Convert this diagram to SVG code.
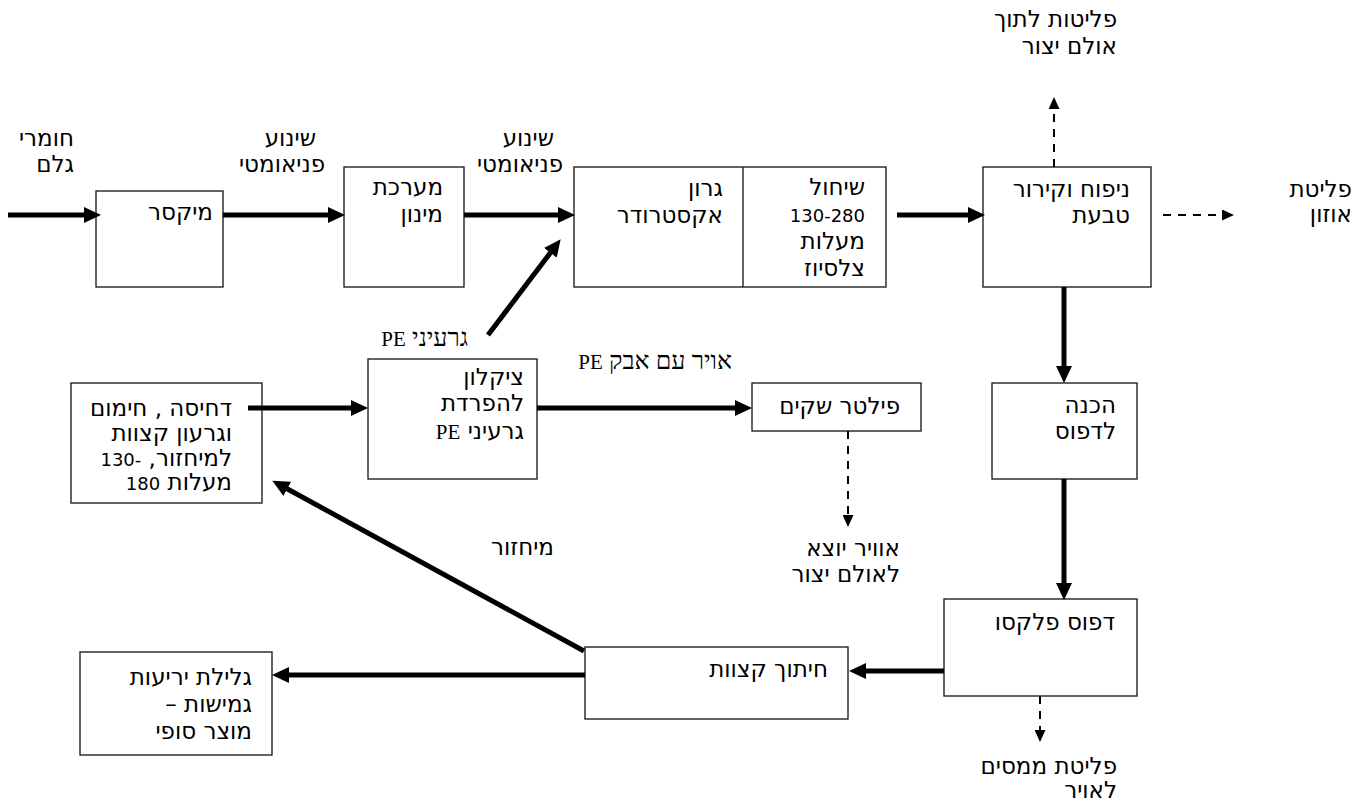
<svg xmlns="http://www.w3.org/2000/svg" width="1371" height="805" viewBox="0 0 1371 805">
<defs>
<style>
text{font-family:"DejaVu Sans","Noto Sans",sans-serif;font-size:23px;fill:#000}
.r{direction:rtl;text-anchor:start}
.d{font-size:18px}
.s{font-family:"Liberation Serif","Noto Serif",serif;font-size:25px}
.pe{font-family:"Liberation Serif","Noto Serif",serif;font-size:21px}
.box{fill:#fff;stroke:#222;stroke-width:1.4}
.thick{stroke:#000;stroke-width:5;fill:none;marker-end:url(#ah)}
.dash{stroke:#000;stroke-width:2;fill:none;stroke-dasharray:8 7;marker-end:url(#dh)}
</style>
<marker id="ah" markerUnits="userSpaceOnUse" markerWidth="17" markerHeight="16" refX="6" refY="8" orient="auto" viewBox="0 0 17 16"><path d="M0,0 L17,8 L0,16 z" fill="#000"/></marker>
<marker id="dh" markerUnits="userSpaceOnUse" markerWidth="12" markerHeight="11" refX="1" refY="5.5" orient="auto" viewBox="0 0 12 11"><path d="M0,0 L12,5.5 L0,11 z" fill="#000"/></marker>
</defs>
<rect width="1371" height="805" fill="#fff"/>

<g id="labels">
<text class="r" x="74" y="146">חומרי</text>
<text class="r" x="74" y="172">גלם</text>
<text class="r" x="316" y="146">שינוע</text>
<text class="r" x="325" y="172">פניאומטי</text>
<text class="r" x="554" y="146">שינוע</text>
<text class="r" x="563" y="172">פניאומטי</text>
<text class="r" x="1117" y="27">פליטות לתוך</text>
<text class="r" x="1117" y="54">אולם יצור</text>
<text class="r" x="1352" y="197">פליטת</text>
<text class="r" x="1352" y="222">אוזון</text>
<text class="r s" x="468" y="346">גרעיני <tspan class="pe">PE</tspan></text>
<text class="r s" x="732" y="369">אויר עם אבק <tspan class="pe">PE</tspan></text>
<text class="r" x="900" y="556">אוויר יוצא</text>
<text class="r" x="900" y="582">לאולם יצור</text>
<text class="r" x="554" y="555">מיחזור</text>
<text class="r" x="1117" y="774">פליטת ממסים</text>
<text class="r" x="1117" y="798">לאויר</text>
</g>

<g id="mixer">
<rect class="box" x="96" y="191" width="127" height="96"/>
<text class="r" x="213" y="220">מיקסר</text>
</g>
<g id="dosing">
<rect class="box" x="344" y="167" width="120" height="120"/>
<text class="r" x="443" y="195">מערכת</text>
<text class="r" x="443" y="222">מינון</text>
</g>
<g id="extruder">
<rect class="box" x="574" y="167" width="312" height="120"/>
<line x1="743" y1="167" x2="743" y2="287" stroke="#222" stroke-width="1.4"/>
<text class="r" x="723" y="196">גרון</text>
<text class="r" x="723" y="223">אקסטרודר</text>
<text class="r" x="865" y="195">שיחול</text>
<text class="r d" x="865" y="222">130-280</text>
<text class="r" x="865" y="249">מעלות</text>
<text class="r" x="865" y="276">צלסיוז</text>
</g>
<g id="blowing">
<rect class="box" x="983" y="167" width="168" height="120"/>
<text class="r" x="1130" y="197">ניפוח וקירור</text>
<text class="r" x="1130" y="223">טבעת</text>
</g>
<g id="prepress">
<rect class="box" x="992" y="383" width="145" height="96"/>
<text class="r" x="1116" y="413">הכנה</text>
<text class="r" x="1116" y="439">לדפוס</text>
</g>
<g id="flexo">
<rect class="box" x="944" y="599" width="193" height="97"/>
<text class="r" x="1115" y="630">דפוס פלקסו</text>
</g>
<g id="trimming">
<rect class="box" x="585" y="647" width="263" height="72"/>
<text class="r" x="828" y="677">חיתוך קצוות</text>
</g>
<g id="final">
<rect class="box" x="80" y="652" width="192" height="103"/>
<text class="r" x="252" y="685">גלילת יריעות</text>
<text class="r" x="252" y="712">גמישות –</text>
<text class="r" x="252" y="739">מוצר סופי</text>
</g>
<g id="compaction">
<rect class="box" x="71" y="383" width="191" height="120"/>
<text class="r" x="232" y="416">דחיסה , חימום</text>
<text class="r" x="232" y="441">וגרעון קצוות</text>
<text class="r" x="232" y="466">למיחזור, <tspan class="d">-130</tspan></text>
<text class="r" x="232" y="490">מעלות <tspan class="d">180</tspan></text>
</g>
<g id="cyclone">
<rect class="box" x="368" y="359" width="169" height="120"/>
<text class="r" x="524" y="385">ציקלון</text>
<text class="r" x="524" y="411">להפרדת</text>
<text class="r" x="524" y="439">גרעיני <tspan class="pe">PE</tspan></text>
</g>
<g id="filter">
<rect class="box" x="752" y="383" width="169" height="48"/>
<text class="r" x="900" y="414">פילטר שקים</text>
</g>

<g id="connectors">
<line class="thick" x1="8" y1="215" x2="90" y2="215"/>
<line class="thick" x1="223" y1="215" x2="334" y2="215"/>
<line class="thick" x1="464" y1="215" x2="564" y2="215"/>
<line class="thick" x1="488" y1="335" x2="554" y2="248"/>
<line class="thick" x1="897" y1="215" x2="974" y2="215"/>
<line class="dash" x1="1054" y1="167" x2="1054" y2="108"/>
<line class="dash" x1="1163" y1="215" x2="1223" y2="215"/>
<line class="thick" x1="1064" y1="287" x2="1064" y2="372"/>
<line class="thick" x1="1064" y1="479" x2="1064" y2="589"/>
<line class="thick" x1="944" y1="671" x2="860" y2="671"/>
<line class="dash" x1="1040" y1="696" x2="1040" y2="731"/>
<line class="thick" x1="585" y1="675" x2="283" y2="675"/>
<line class="thick" x1="584" y1="651" x2="282" y2="486"/>
<line class="thick" x1="248" y1="408" x2="357" y2="408"/>
<line class="thick" x1="537" y1="408" x2="741" y2="408"/>
<line class="dash" x1="848" y1="431" x2="848" y2="516"/>
</g>
</svg>
